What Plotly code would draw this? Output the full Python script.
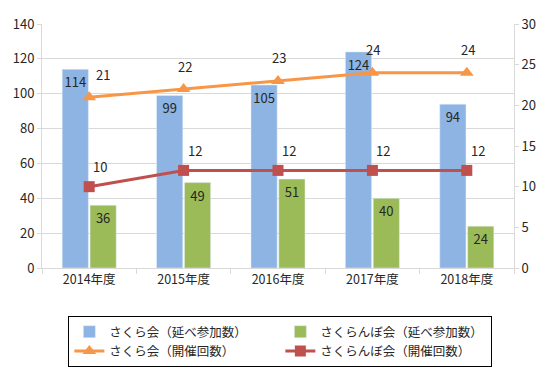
import plotly.graph_objects as go

categories = ["2014年度", "2015年度", "2016年度", "2017年度", "2018年度"]
sakura_participants = [114, 99, 105, 124, 94]
sakuranbo_participants = [36, 49, 51, 40, 24]
sakura_meetings = [21, 22, 23, 24, 24]
sakuranbo_meetings = [10, 12, 12, 12, 12]

FONT = "Noto Sans CJK JP"
TXT = "#262626"
fig = go.Figure()

fig.add_trace(go.Bar(
    x=categories, y=sakura_participants, name="さくら会（延べ参加数）",
    marker=dict(color="#8DB4E2"), text=sakura_participants,
    textposition="inside", insidetextanchor="end", textangle=0,
    textfont=dict(color=TXT, size=13, family=FONT),
))
fig.add_trace(go.Bar(
    x=categories, y=sakuranbo_participants, name="さくらんぼ会（延べ参加数）",
    marker=dict(color="#9BBB59"), text=sakuranbo_participants,
    textposition="inside", insidetextanchor="end", textangle=0,
    textfont=dict(color=TXT, size=13, family=FONT),
))
fig.add_trace(go.Scatter(
    x=categories, y=sakura_meetings, name="さくら会（開催回数）",
    mode="lines+markers", yaxis="y2",
    line=dict(color="#F79646", width=3),
    marker=dict(symbol="triangle-up", size=12, color="#F79646"),
))
fig.add_trace(go.Scatter(
    x=categories, y=sakuranbo_meetings, name="さくらんぼ会（開催回数）",
    mode="lines+markers", yaxis="y2",
    line=dict(color="#C0504D", width=3),
    marker=dict(symbol="square", size=11, color="#C0504D"),
))

# data labels for the line series
for i, (c, v) in enumerate(zip(categories, sakura_meetings)):
    fig.add_annotation(x=c, y=v, yref="y2", text=str(v), showarrow=False,
                       xshift=14 if i == 0 else 1, yshift=23,
                       font=dict(color=TXT, size=13, family=FONT))
for c, v in zip(categories, sakuranbo_meetings):
    fig.add_annotation(x=c, y=v, yref="y2", text=str(v), showarrow=False,
                       xshift=11, yshift=20,
                       font=dict(color=TXT, size=13, family=FONT))

fig.update_layout(
    width=549, height=376,
    margin=dict(l=42, r=35, t=24, b=108, autoexpand=False),
    paper_bgcolor="white", plot_bgcolor="white",
    font=dict(family=FONT, size=13, color=TXT),
    barmode="group", bargap=0.41, bargroupgap=0.06,
    uniformtext=dict(minsize=13, mode="show"),
    xaxis=dict(
        showline=True, linecolor="#D9D9D9", ticks="outside", tickson="boundaries",
        tickcolor="#D9D9D9", ticklen=5, showgrid=False, automargin=False,
        tickfont=dict(size=12.5, color=TXT),
    ),
    yaxis=dict(
        range=[0, 140], dtick=20, showgrid=True, gridcolor="#D9D9D9",
        showline=True, linecolor="#D9D9D9", ticks="outside", tickcolor="#D9D9D9",
        ticklen=4, zeroline=False, automargin=False,
        tickfont=dict(size=13, color=TXT),
    ),
    yaxis2=dict(
        overlaying="y", side="right", range=[0, 30], dtick=5, showgrid=False,
        showline=True, linecolor="#D9D9D9", ticks="outside", tickcolor="#D9D9D9",
        ticklen=4, zeroline=False, automargin=False,
        tickfont=dict(size=13, color=TXT),
    ),
    legend=dict(
        orientation="h", x=0.505, xanchor="center", y=-0.197, yanchor="top",
        bordercolor="#000000", borderwidth=1, entrywidth=166, entrywidthmode="pixels",
        font=dict(size=12.5, color=TXT), traceorder="normal",
    ),
    showlegend=True,
)

fig.write_html("out.html", config={"displayModeBar": False},
               post_script="document.body.style.margin='0';")
